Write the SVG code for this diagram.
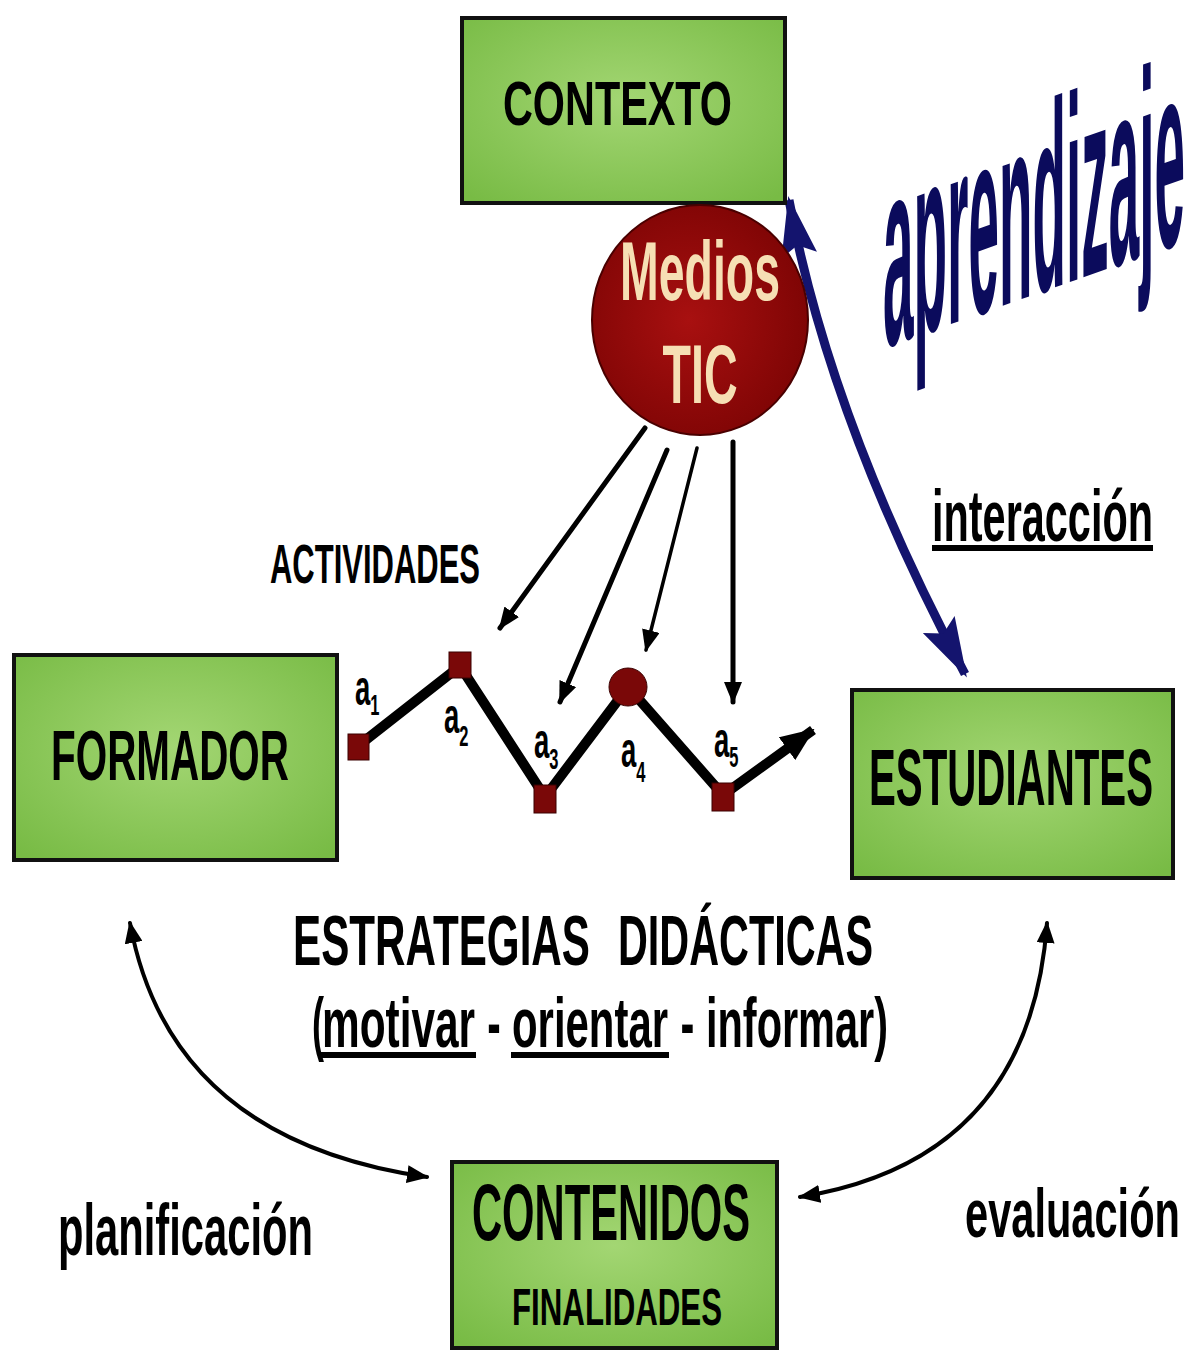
<svg xmlns="http://www.w3.org/2000/svg" width="1198" height="1351" viewBox="0 0 1198 1351">
<style>
.t{font-family:"Liberation Sans Narrow","Liberation Sans",Arial,sans-serif;font-weight:bold;fill:#000}
.box{stroke:#111;stroke-width:4;fill:url(#green)}
.blk{fill:none;stroke:#000;stroke-linecap:round}
.node-a{fill:#7a0808;stroke:#3a0000;stroke-width:1}
.al{font-size:50px}
.al tspan{font-size:30px}
</style>
<defs>
<radialGradient id="green" cx="0.5" cy="0.45" r="0.7">
<stop offset="0" stop-color="#a3d673"/>
<stop offset="1" stop-color="#78bb45"/>
</radialGradient>
<radialGradient id="red" cx="0.45" cy="0.5" r="0.6">
<stop offset="0" stop-color="#a81010"/>
<stop offset="1" stop-color="#7c0404"/>
</radialGradient>
<marker id="ah" markerUnits="userSpaceOnUse" markerWidth="22" markerHeight="18" refX="20" refY="9" orient="auto-start-reverse" viewBox="0 0 22 18">
<path d="M0,0 L22,9 L0,18 z" fill="#000"/>
</marker>
<marker id="ahBig" markerUnits="userSpaceOnUse" markerWidth="34" markerHeight="28" refX="32" refY="14" orient="auto" viewBox="0 0 34 28">
<path d="M0,0 L34,14 L0,28 z" fill="#000"/>
</marker>
<marker id="ahBlue" markerUnits="userSpaceOnUse" markerWidth="60" markerHeight="40" refX="56" refY="20" orient="auto-start-reverse" viewBox="0 0 60 40">
<path d="M0,2 L60,20 L0,38 L10,20 z" fill="#14146e"/>
</marker>
</defs>
<rect width="1198" height="1351" fill="#fff"/>

<g id="connectors">
<path class="blk" d="M645,428 L500,628" stroke-width="5" marker-end="url(#ah)"/>
<path class="blk" d="M667,450 L560,702" stroke-width="5" marker-end="url(#ah)"/>
<path class="blk" d="M697,448 L646,650" stroke-width="3.5" marker-end="url(#ah)"/>
<path class="blk" d="M733,442 L733,702" stroke-width="5" marker-end="url(#ah)"/>
<path class="blk" d="M130,923 Q170,1140 427,1177" stroke-width="4" marker-start="url(#ah)" marker-end="url(#ah)"/>
<path class="blk" d="M1047,923 Q1030,1160 800,1197" stroke-width="4" marker-start="url(#ah)" marker-end="url(#ah)"/>
<path d="M789,200 Q830,420 965,674" fill="none" stroke="#14146e" stroke-width="9" marker-start="url(#ahBlue)" marker-end="url(#ahBlue)"/>
</g>

<g id="node-contexto">
<rect class="box" x="462" y="18" width="323" height="185"/>
<text class="t" x="617.5" y="125" font-size="63" text-anchor="middle" textLength="229" lengthAdjust="spacingAndGlyphs">CONTEXTO</text>
</g>

<g id="node-medios">
<ellipse cx="700" cy="320" rx="108" ry="115" fill="url(#red)" stroke="#4a0000" stroke-width="2"/>
<text class="t" x="700" y="300" font-size="84" text-anchor="middle" textLength="160" lengthAdjust="spacingAndGlyphs" style="fill:#f6dfb4">Medios</text>
<text class="t" x="700" y="403" font-size="84" text-anchor="middle" textLength="75" lengthAdjust="spacingAndGlyphs" style="fill:#f6dfb4">TIC</text>
</g>

<g id="node-formador">
<rect class="box" x="14" y="655" width="323" height="205"/>
<text class="t" x="170" y="780" font-size="70" text-anchor="middle" textLength="238" lengthAdjust="spacingAndGlyphs">FORMADOR</text>
</g>

<g id="node-estudiantes">
<rect class="box" x="852" y="690" width="321" height="188"/>
<text class="t" x="1011" y="805" font-size="80" text-anchor="middle" textLength="284" lengthAdjust="spacingAndGlyphs">ESTUDIANTES</text>
</g>

<g id="node-contenidos">
<rect class="box" x="452" y="1162" width="325" height="186"/>
<text class="t" x="611" y="1240" font-size="80" text-anchor="middle" textLength="278" lengthAdjust="spacingAndGlyphs">CONTENIDOS</text>
<text class="t" x="617" y="1325" font-size="52" text-anchor="middle" textLength="210" lengthAdjust="spacingAndGlyphs">FINALIDADES</text>
</g>

<g id="actividades">
<text class="t" x="270" y="583" font-size="55" textLength="210" lengthAdjust="spacingAndGlyphs">ACTIVIDADES</text>
<path d="M358,746 L460,666 L545,797 L628,687 L723,795 L813,730" fill="none" stroke="#000" stroke-width="10" stroke-linejoin="miter" marker-end="url(#ahBig)"/>
<rect class="node-a" x="348" y="734" width="21" height="26"/>
<rect class="node-a" x="449" y="652" width="22" height="26"/>
<rect class="node-a" x="534" y="785" width="22" height="28"/>
<circle class="node-a" cx="628" cy="687" r="19"/>
<rect class="node-a" x="712" y="783" width="22" height="28"/>
<text class="t al" transform="translate(355,705) scale(0.55,1)">a<tspan y="10">1</tspan></text>
<text class="t al" transform="translate(444,733) scale(0.55,1)">a<tspan y="13">2</tspan></text>
<text class="t al" transform="translate(534,758) scale(0.55,1)">a<tspan y="11">3</tspan></text>
<text class="t al" transform="translate(621,767) scale(0.55,1)">a<tspan y="15">4</tspan></text>
<text class="t al" transform="translate(714,757) scale(0.55,1)">a<tspan y="10">5</tspan></text>
</g>

<g id="label-aprendizaje">
<text class="t" transform="matrix(1,-0.353,0,1,883,348) scale(1,1.15)" x="0" y="0" font-size="230" textLength="302" lengthAdjust="spacingAndGlyphs" style="fill:#0b0b5c">aprendizaje</text>
</g>

<g id="label-interaccion">
<text class="t" x="932" y="541" font-size="72" textLength="221" lengthAdjust="spacingAndGlyphs">interacción</text>
<rect x="932" y="545" width="221" height="6" fill="#000"/>
</g>

<g id="label-estrategias">
<text class="t" y="965" font-size="70"><tspan x="293" textLength="297" lengthAdjust="spacingAndGlyphs">ESTRATEGIAS</tspan><tspan x="590" textLength="28" lengthAdjust="spacingAndGlyphs">  </tspan><tspan x="618" textLength="255" lengthAdjust="spacingAndGlyphs">DIDÁCTICAS</tspan></text>
<text class="t" y="1047" font-size="70"><tspan x="312" textLength="12" lengthAdjust="spacingAndGlyphs">(</tspan><tspan x="322" textLength="153" lengthAdjust="spacingAndGlyphs">motivar</tspan><tspan x="476" textLength="36" lengthAdjust="spacingAndGlyphs"> - </tspan><tspan x="512" textLength="156" lengthAdjust="spacingAndGlyphs">orientar</tspan><tspan x="669" textLength="37" lengthAdjust="spacingAndGlyphs"> - </tspan><tspan x="706" textLength="182" lengthAdjust="spacingAndGlyphs">informar)</tspan></text>
<rect x="320" y="1052" width="156" height="6" fill="#000"/>
<rect x="511" y="1052" width="158" height="6" fill="#000"/>
</g>

<g id="label-planificacion">
<text class="t" x="58" y="1255" font-size="72" textLength="255" lengthAdjust="spacingAndGlyphs">planificación</text>
</g>
<g id="label-evaluacion">
<text class="t" x="965" y="1237" font-size="68" textLength="215" lengthAdjust="spacingAndGlyphs">evaluación</text>
</g>
</svg>
